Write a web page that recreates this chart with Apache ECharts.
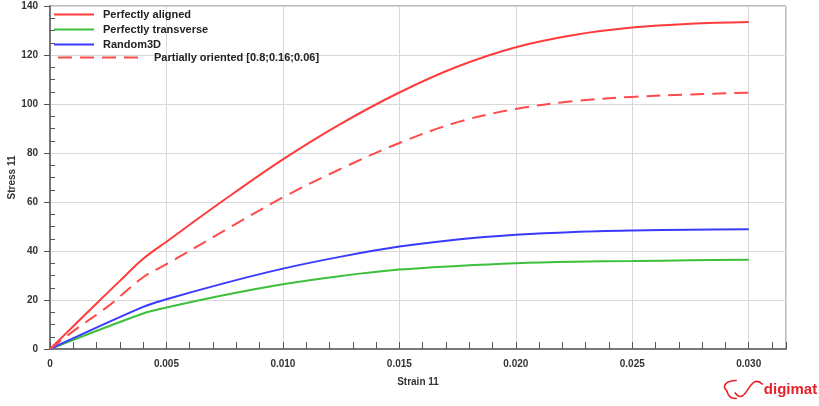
<!DOCTYPE html>
<html>
<head>
<meta charset="utf-8">
<script src="https://cdn.jsdelivr.net/npm/echarts@6/dist/echarts.min.js"></script>
<style>html,body{margin:0;padding:0;background:#fff}#c{width:819px;height:406px}</style>
</head>
<body>
<div id="c"></div>
<script>
const seriesNames = ['Perfectly aligned', 'Perfectly transverse', 'Random3D', 'Partially oriented [0.8;0.16;0.06]'];
const strainAligned = [0, 0.001, 0.002, 0.003, 0.004, 0.005, 0.0075, 0.010, 0.0125, 0.015, 0.0175, 0.020, 0.0225, 0.025, 0.0275, 0.030];
const stressAligned = [0, 9.3, 18.6, 27.8, 36.8, 43.8, 61.0, 77.4, 92.0, 104.7, 115.3, 123.2, 128.2, 131.2, 132.8, 133.5];
const strainPartial = [0, 0.001, 0.0025, 0.004, 0.005, 0.0075, 0.010, 0.0125, 0.015, 0.0175, 0.020, 0.0225, 0.025, 0.0275, 0.030];
const stressPartial = [0, 7.3, 17.5, 29.3, 34.6, 48.4, 61.9, 73.6, 84.1, 92.6, 98.0, 101.2, 102.9, 103.9, 104.6];
const strainRandom = [0, 0.004, 0.005, 0.0075, 0.010, 0.0125, 0.015, 0.0175, 0.020, 0.0225, 0.025, 0.0275, 0.030];
const stressRandom = [0, 17.2, 20.3, 26.9, 32.8, 37.7, 41.8, 44.7, 46.6, 47.8, 48.4, 48.7, 48.9];
const strainTransverse = [0, 0.004, 0.005, 0.0075, 0.010, 0.0125, 0.015, 0.0175, 0.020, 0.0225, 0.025, 0.0275, 0.030];
const stressTransverse = [0, 14.5, 16.9, 22.0, 26.4, 29.8, 32.4, 33.9, 35.0, 35.6, 35.9, 36.2, 36.4];
const xTickLabels = ['0', '0.005', '0.010', '0.015', '0.020', '0.025', '0.030'];
const yTickLabels = ['0', '20', '40', '60', '80', '100', '120', '140'];

function pairs(xs, ys) { return xs.map((x, i) => [x, ys[i]]); }

const FONT = '"Liberation Sans", Arial, sans-serif';
const chart = echarts.init(document.getElementById('c'), null, {renderer: 'canvas'});
const labelStyle = {color: '#333', fontFamily: FONT, fontWeight: 'bold', fontSize: 10};

function line(name, data, color, dashed) {
  return {
    name: name, type: 'line', data: data, symbol: 'none', smooth: 0.35,
    xAxisIndex: 0, yAxisIndex: 0,
    lineStyle: {color: color, width: 2, type: dashed ? [14, 8] : 'solid'},
    itemStyle: {color: color}, animation: false
  };
}

const legendText = {color: '#222', fontFamily: FONT, fontWeight: 'bold', fontSize: 11};

chart.setOption({
  backgroundColor: '#fff',
  animation: false,
  grid: {left: 50, right: 33, top: 6, bottom: 57, show: true, borderColor: '#777', borderWidth: 1,
         backgroundColor: 'transparent', outerBoundsMode: 'none', containLabel: false},
  legend: [
    {data: seriesNames.slice(0, 3), orient: 'vertical', left: 53, top: 9, padding: 0, itemWidth: 40, itemHeight: 10, itemGap: 4,
     itemStyle: {opacity: 0}, textStyle: Object.assign({padding: [0, 0, 0, 4]}, legendText), selectedMode: false},
    {data: [seriesNames[3]], orient: 'vertical', left: 57, top: 52, padding: 0, itemWidth: 85, itemHeight: 10,
     itemStyle: {opacity: 0}, textStyle: Object.assign({padding: [0, 0, 0, 6]}, legendText), selectedMode: false}
  ],
  xAxis: {
    type: 'value', min: 0, max: 0.0316, interval: 0.005,
    name: 'Strain 11', nameLocation: 'middle', nameGap: 28, nameMoveOverlap: false,
    nameTextStyle: {color: '#333', fontFamily: FONT, fontWeight: 'bold', fontSize: 10},
    axisLine: {show: true, lineStyle: {color: '#777', width: 2}},
    axisTick: {show: true, inside: true, length: 7, lineStyle: {color: '#555'}},
    minorTick: {show: true, splitNumber: 5, length: 7, lineStyle: {color: '#555'}},
    splitLine: {show: true, lineStyle: {color: '#d8d8d8'}},
    axisLabel: Object.assign({margin: 10, formatter: function (v) {
      const i = Math.round(v / 0.005);
      if (Math.abs(v - i * 0.005) > 1e-9) return '';
      return xTickLabels[i] || '';
    }}, labelStyle)
  },
  yAxis: [
    {
      type: 'value', min: 0, max: 140, interval: 20,
      name: 'Stress 11', nameLocation: 'middle', nameGap: 33, nameMoveOverlap: false,
      nameTextStyle: {color: '#333', fontFamily: FONT, fontWeight: 'bold', fontSize: 10},
      axisLine: {show: true, lineStyle: {color: '#777', width: 2}},
      axisTick: {show: true, inside: false, length: 6, lineStyle: {color: '#555'}},
      splitLine: {show: true, lineStyle: {color: '#d8d8d8'}},
      axisLabel: Object.assign({margin: 12, formatter: function (v) {
        return yTickLabels[Math.round(v / 20)] || '';
      }}, labelStyle)
    },
    {
      type: 'value', min: 0, max: 140, interval: 20, position: 'left',
      axisLine: {show: false}, axisLabel: {show: false}, splitLine: {show: false},
      axisTick: {show: false, inside: true},
      minorTick: {show: true, splitNumber: 4, length: 5, lineStyle: {color: '#555'}}
    }
  ],
  series: [
    line(seriesNames[0], pairs(strainAligned, stressAligned), '#ff3b3b', false),
    line(seriesNames[1], pairs(strainTransverse, stressTransverse), '#3cc03c', false),
    line(seriesNames[2], pairs(strainRandom, stressRandom), '#3a3aff', false),
    line(seriesNames[3], pairs(strainPartial, stressPartial), '#ff4a4a', true)
  ],
  graphic: [
    {type: 'group', left: 722, top: 378, children: [
      {type: 'bezierCurve', shape: {x1: 10, y1: 2, x2: 0, y2: 12, cpx1: -4, cpy1: 2, cpx2: -4, cpy2: 10}, style: {stroke: '#e8202a', lineWidth: 1.6, fill: null}},
      {type: 'bezierCurve', shape: {x1: 0, y1: 12, x2: 10, y2: 20, cpx1: 2, cpy1: 20, cpx2: 6, cpy2: 20}, style: {stroke: '#e8202a', lineWidth: 1.6, fill: null}},
      {type: 'bezierCurve', shape: {x1: 8, y1: 14, x2: 36, y2: 6, cpx1: 20, cpy1: 30, cpx2: 22, cpy2: -8}, style: {stroke: '#e8202a', lineWidth: 1.6, fill: null}},
      {type: 'text', x: 37, y: 4, style: {text: 'digimat', fill: '#e8202a', font: 'bold 15px ' + FONT}}
    ]}
  ]
});
</script>
</body>
</html>
